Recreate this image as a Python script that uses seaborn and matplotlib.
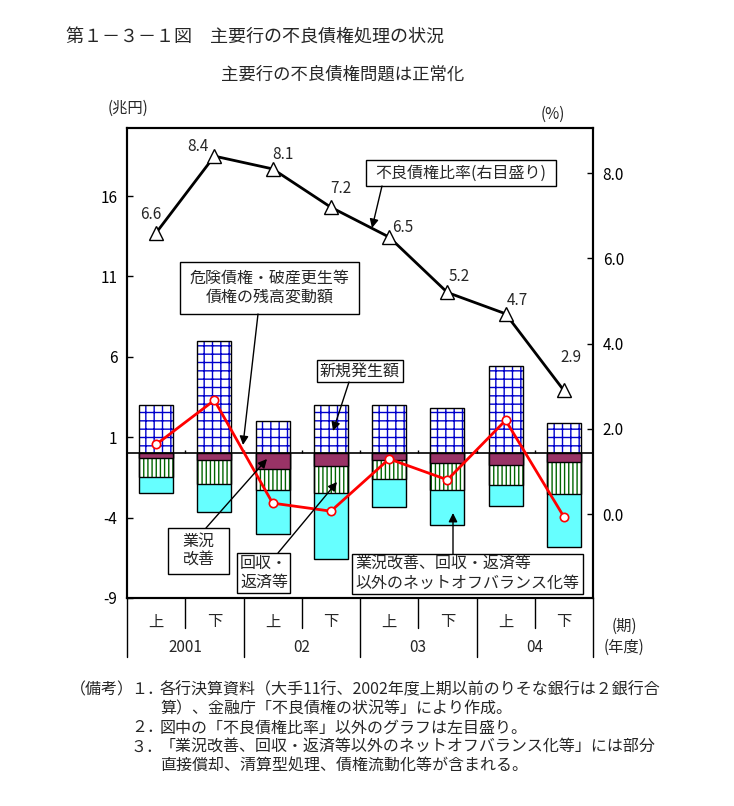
import numpy as np
import pandas as pd
import matplotlib
matplotlib.use("Agg")
import matplotlib.pyplot as plt
import seaborn as sns
from matplotlib.patches import Rectangle

# ---------------- data ----------------
periods = ["2001上", "2001下", "02上", "02下", "03上", "03下", "04上", "04下"]
halves = ["上", "下", "上", "下", "上", "下", "上", "下"]
years = ["2001", "02", "03", "04"]
new_npl = [3.0, 7.0, 2.0, 3.0, 3.0, 2.8, 5.4, 1.9]                 # 新規発生額
gyokyo = [-0.3, -0.4, -1.0, -0.8, -0.4, -0.6, -0.75, -0.55]        # 業況改善
kaishu = [-1.2, -1.5, -1.3, -1.7, -1.2, -1.7, -1.2, -2.0]          # 回収・返済等
offbal = [-1.0, -1.75, -2.75, -4.1, -1.75, -2.15, -1.35, -3.3]     # それ以外のネットオフバランス化等
balance_change = [0.55, 3.3, -3.1, -3.6, -0.35, -1.65, 2.05, -3.95]  # 残高変動額
npl_ratio = [6.6, 8.4, 8.1, 7.2, 6.5, 5.2, 4.7, 2.9]              # 不良債権比率(%)
left_ticks = [-9, -4, 1, 6, 11, 16]
right_ticks = [0, 2, 4, 6, 8]

# ---------------- style ----------------
sns.set_theme(style="white")
plt.rcParams["font.family"] = ["Noto Sans CJK JP", "DejaVu Sans"]
plt.rcParams["hatch.linewidth"] = 1.0

W, H = 734, 806
def P(x, y):
    return (x / W, 1 - y / H)

fig = plt.figure(figsize=(W / 100, H / 100), dpi=100)
fig.patch.set_facecolor("white")
ax = fig.add_axes([127 / W, 1 - 598 / H, 466 / W, 470 / H])

df = pd.DataFrame({
    "period": periods,
    "new": new_npl,
    "g": gyokyo,
    "gk": np.array(gyokyo) + np.array(kaishu),
    "total": np.array(gyokyo) + np.array(kaishu) + np.array(offbal),
})
common = dict(data=df, x="period", order=periods, width=0.58,
              saturation=1, errorbar=None, ax=ax)

# negative stacks (drawn overlapping from 0)
sns.barplot(y="total", color="#66FFFF", edgecolor="black", linewidth=1, zorder=2, **common)
sns.barplot(y="gk", color="white", edgecolor="#006600", linewidth=0, hatch="||||", zorder=3, **common)
sns.barplot(y="gk", fill=False, color="black", linewidth=1, zorder=3.5, **common)
sns.barplot(y="g", color="#993366", edgecolor="black", linewidth=1, zorder=4, **common)
# positive bars
sns.barplot(y="new", color="white", edgecolor="#0000CC", linewidth=0, hatch="++", zorder=2, **common)
sns.barplot(y="new", fill=False, color="black", linewidth=1, zorder=3.5, **common)

xpos = np.arange(len(periods))
ax.axhline(0, color="black", lw=1.2, zorder=5)
ax.vlines(np.arange(0.5, 7.5, 1), 0, 0.22, color="black", lw=1, zorder=5)

sns.lineplot(x=xpos, y=balance_change, color="red", lw=2, marker="o", markersize=6,
             markerfacecolor="white", markeredgecolor="red", markeredgewidth=1.2,
             ax=ax, zorder=6)

ax.set_ylim(-9, 20.23)
ax.set_yticks(left_ticks)
ax.set_yticklabels([str(t) for t in left_ticks])
ax.set_xticks([])
ax.set_xlabel("")
ax.set_ylabel("")
ax.tick_params(axis="y", direction="in", length=4, width=1, labelsize=11, pad=7,
               left=True, colors="black")

ax2 = ax.twinx()
sns.lineplot(x=xpos, y=npl_ratio, color="black", lw=2, marker="^", markersize=10,
             markerfacecolor="white", markeredgecolor="black", markeredgewidth=1,
             ax=ax2, zorder=7)
ax2.set_ylim(-1.97, 9.06)
ax2.set_yticks(right_ticks)
ax2.set_yticklabels([f"{t:.1f}" for t in right_ticks])
ax2.set_ylabel("")
ax2.tick_params(axis="y", direction="in", length=4, width=1, labelsize=11, pad=7,
                right=True, colors="black")
ax.set_xlim(-0.5, 7.5)
ax2.set_xlim(-0.5, 7.5)
ax2.set_xticks([])

for a in (ax, ax2):
    for s in a.spines.values():
        s.set_color("black")
        s.set_linewidth(1.5)

# ratio labels
label_offsets = [(-5, 18), (-16, 10), (10, 14), (10, 19), (14, 10), (12, 16), (12, 13), (7, 33)]
for i, v in enumerate(npl_ratio):
    ax2.annotate(f"{v:.1f}", xy=(xpos[i], v), xytext=label_offsets[i],
                 textcoords="offset pixels", ha="center", va="center",
                 fontsize=11, zorder=8)

# ---------------- category table below ----------------
tr = ax.get_xaxis_transform()
for b in [0.5, 2.5, 4.5, 6.5]:
    ax.plot([b, b], [0, -0.064], transform=tr, color="black", lw=1, clip_on=False)
for b in [-0.5, 1.5, 3.5, 5.5, 7.5]:
    ax.plot([b, b], [0, -0.1255], transform=tr, color="black", lw=1, clip_on=False)
for i, h in enumerate(halves):
    ax.text(xpos[i], -0.051, h, transform=tr, ha="center", va="center", fontsize=11)
for k, y in enumerate(years):
    ax.text(2 * k + 0.5, -0.106, y, transform=tr, ha="center", va="center", fontsize=11)
fig.text(*P(624, 626), "(期)", ha="center", va="center", fontsize=11)
fig.text(*P(624, 647), "(年度)", ha="center", va="center", fontsize=11)

# ---------------- titles ----------------
fig.text(*P(66, 38), "第１－３－１図　主要行の不良債権処理の状況", ha="left", va="center", fontsize=13)
fig.text(*P(343, 75), "主要行の不良債権問題は正常化", ha="center", va="center", fontsize=12.5)
fig.text(*P(128, 108), "(兆円)", ha="center", va="center", fontsize=11)
fig.text(*P(553, 114), "(%)", ha="center", va="center", fontsize=11)

# ---------------- annotation boxes ----------------
def box(x0, y0, x1, y1, text, ha="center", tx=None):
    fig.add_artist(Rectangle(P(x0, y1), (x1 - x0) / W, (y1 - y0) / H,
                             transform=fig.transFigure, facecolor="white",
                             edgecolor="black", lw=1, zorder=10))
    if tx is None:
        tx = (x0 + x1) / 2
    fig.text(*P(tx, (y0 + y1) / 2), text, ha=ha, va="center", fontsize=11.5,
             linespacing=1.15, multialignment=ha, zorder=11)

def arrow(x0, y0, x1, y1):
    fig.add_artist(matplotlib.patches.FancyArrowPatch(
        P(x0, y0), P(x1, y1), transform=fig.transFigure, arrowstyle="-|>",
        mutation_scale=13, color="black", lw=1, shrinkA=0, shrinkB=0, zorder=12))

box(366, 160, 556, 186, "不良債権比率(右目盛り)")
arrow(382, 186, 372, 228)
box(180, 262, 359, 314, "危険債権・破産更生等\n債権の残高変動額")
arrow(258, 314, 243, 445)
box(317, 360, 403, 382, "新規発生額")
arrow(349, 382, 333, 431)
box(168, 528, 229, 574, "業況\n改善")
arrow(206, 528, 267, 459)
box(237, 553, 290, 593, "回収・\n返済等", ha="left", tx=240)
arrow(278, 553, 337, 482)
box(352, 554, 583, 594, "業況改善、回収・返済等\n以外のネットオフバランス化等", ha="left", tx=355)
arrow(453, 554, 453, 513)

# ---------------- notes ----------------
notes = [
    (690, 70, "（備考）"), (690, 131, "１．"),
    (690, 160, "各行決算資料（大手11行、2002年度上期以前のりそな銀行は２銀行合"),
    (709, 160, "算）、金融庁「不良債権の状況等」により作成。"),
    (728, 131, "２．"), (728, 160, "図中の「不良債権比率」以外のグラフは左目盛り。"),
    (747, 131, "３．"), (747, 160, "「業況改善、回収・返済等以外のネットオフバランス化等」には部分"),
    (766, 160, "直接償却、清算型処理、債権流動化等が含まれる。"),
]
for y, x, t in notes:
    fig.text(*P(x, y), t, ha="left", va="center", fontsize=11.5)

fig.savefig("out.png", dpi=100)
